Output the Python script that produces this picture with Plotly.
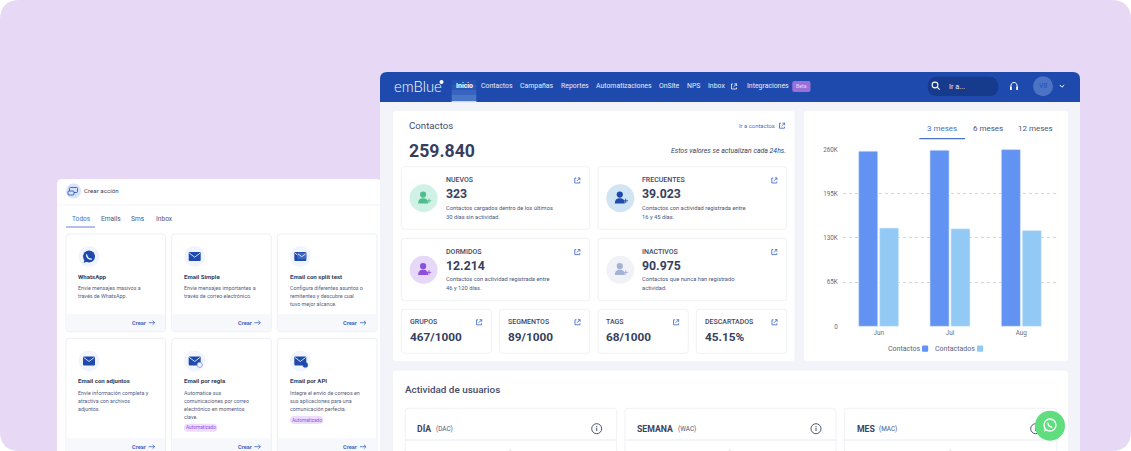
import plotly.graph_objects as go

W = 1131
H = 451

# chart data
months = ["Jun", "Jul", "Aug"]
contactos = [257500, 258800, 259840]
contactados = [144500, 143500, 141000]
y_ticks = [0, 65000, 130000, 195000, 260000]
y_tick_labels = ["0", "65K", "130K", "195K", "260K"]
range_tabs = ["3 meses", "6 meses", "12 meses"]

# page texts
nav_labels = ["Inicio", "Contactos", "Campañas", "Reportes", "Automatizaciones", "OnSite", "NPS", "Inbox", "Integraciones"]
left_tabs = ["Todos", "Emails", "Sms", "Inbox"]
action_titles = ["WhatsApp", "Email Simple", "Email con split test", "Email con adjuntos", "Email por regla", "Email por API"]
action_desc = [
    ["Envíe mensajes masivos a", "través de WhatsApp."],
    ["Envíe mensajes importantes a", "través de correo electrónico."],
    ["Configura diferentes asuntos o", "remitentes y descubre cual", "tuvo mejor alcance."],
    ["Envíe información completa y", "atractiva con archivos", "adjuntos."],
    ["Automatice sus", "comunicaciones por correo", "electrónico en momentos", "clave."],
    ["Integre el envío de correos en", "sus aplicaciones para una", "comunicación perfecta."],
]
big_titles = ["NUEVOS", "FRECUENTES", "DORMIDOS", "INACTIVOS"]
big_values = ["323", "39.023", "12.214", "90.975"]
big_desc = [
    ["Contactos cargados dentro de los últimos", "30 días sin actividad."],
    ["Contactos con actividad registrada entre", "16 y 45 días."],
    ["Contactos con actividad registrada entre", "46 y 120 días."],
    ["Contactos que nunca han registrado", "actividad."],
]
small_titles = ["GRUPOS", "SEGMENTOS", "TAGS", "DESCARTADOS"]
small_values = ["467/1000", "89/1000", "68/1000", "45.15%"]
activity_titles = ["DÍA", "SEMANA", "MES"]
activity_codes = ["(DAC)", "(WAC)", "(MAC)"]

FONT = "Roboto"
DARK = "#3A4362"
BLUE = "#1E4AAE"
LINK = "#4A70CC"
BORDER = "#ECEEF4"

shapes = []
annotations = []


def px(x):
    return x / W


def py(y):
    return 1 - y / H


def path_from(points):
    # points are (cmd, x, y, ...) in screen pixels
    out = []
    for p in points:
        nums = p[1:]
        coords = [f"{px(nums[i]):.5f},{py(nums[i + 1]):.5f}" for i in range(0, len(nums), 2)]
        out.append(p[0] + " ".join(coords))
    return " ".join(out)


def add_path(points, fill="rgba(0,0,0,0)", line=None, width=1):
    shapes.append(dict(type="path", xref="paper", yref="paper", layer="below", path=path_from(points),
                       fillcolor=fill, line=dict(color=line or "rgba(0,0,0,0)", width=width if line else 0)))


def box(x0, y0, x1, y1, fill="#FFFFFF", line=None, r=0, width=1, square_bottom=False):
    rb = 0 if square_bottom else r
    add_path([("M", x0 + r, y0), ("L", x1 - r, y0), ("Q", x1, y0, x1, y0 + r), ("L", x1, y1 - rb),
              ("Q", x1, y1, x1 - rb, y1), ("L", x0 + rb, y1), ("Q", x0, y1, x0, y1 - rb), ("L", x0, y0 + r),
              ("Q", x0, y0, x0 + r, y0), ("Z",)], fill, line, width)


def circle(cx, cy, r, fill="rgba(0,0,0,0)", line=None, width=1):
    shapes.append(dict(type="circle", xref="paper", yref="paper", layer="below",
                       x0=px(cx - r), x1=px(cx + r), y0=py(cy + r), y1=py(cy - r), fillcolor=fill,
                       line=dict(color=line or "rgba(0,0,0,0)", width=width if line else 0)))


def text(x, y, s, size=7, color=DARK, weight=400, anchor="left", style="normal", family=FONT):
    # annotations sit about 1px inside their anchor
    x = x - 1 if anchor == "left" else x + 1 if anchor == "right" else x
    annotations.append(dict(x=px(x), y=py(y), xref="paper", yref="paper", text=s, showarrow=False,
                            xanchor=anchor, yanchor="middle", borderpad=0,
                            font=dict(family=family, size=size, color=color, weight=weight, style=style)))


def ext_icon(cx, cy, color=LINK):
    add_path([("M", cx - 1, cy - 2.5), ("L", cx - 2.5, cy - 2.5), ("L", cx - 2.5, cy + 2.5), ("L", cx + 2.5, cy + 2.5), ("L", cx + 2.5, cy + 1)],
             line=color, width=0.9)
    add_path([("M", cx - 0.5, cy + 0.5), ("L", cx + 2.6, cy - 2.6), ("M", cx + 0.5, cy - 2.6), ("L", cx + 2.6, cy - 2.6), ("L", cx + 2.6, cy - 0.5)],
             line=color, width=0.9)


def person(cx, cy, color, mark=None):
    circle(cx - 0.5, cy - 3.6, 3.1, color)
    add_path([("M", cx - 5.5, cy + 5.2), ("Q", cx - 5.5, cy, cx - 0.5, cy), ("Q", cx + 4.5, cy, cx + 4.5, cy + 5.2), ("Z",)], color)
    if mark:
        add_path([("M", cx + 3.2, cy + 2.6), ("L", cx + 7.6, cy + 2.6), ("M", cx + 5.4, cy + 0.4), ("L", cx + 5.4, cy + 4.8)], line=mark, width=0.9)


def envelope(cx, cy, w=11, h=8, color=BLUE):
    box(cx - w / 2, cy - h / 2, cx + w / 2, cy + h / 2, color, r=1)
    add_path([("M", cx - w / 2 + 0.6, cy - h / 2 + 1), ("L", cx, cy + 0.6), ("L", cx + w / 2 - 0.6, cy - h / 2 + 1)], line="#FFFFFF", width=0.8)


def wa_icon(cx, cy, r, color):
    circle(cx, cy, r, color)
    add_path([("M", cx - r * 0.9, cy + r * 1.05), ("L", cx - r * 0.65, cy + r * 0.25), ("L", cx - r * 0.1, cy + r * 0.75), ("Z",)], color)


# purple backdrop
box(0, 0, W, H, "#E7D8F5", r=20)

# left panel "Crear accion"
box(57, 179, 381, 452, "#FFFFFF", r=5, square_bottom=True)
add_path([("M", 57, 205), ("L", 380, 205)], line="#F2F3F7", width=1)
circle(73.5, 191, 7.5, "#D7E3FB")
box(69.5, 187.5, 77.5, 192.5, "rgba(0,0,0,0)", line=BLUE, r=1, width=0.8)
box(68, 191, 74, 195, "#D7E3FB", line=BLUE, r=1, width=0.8)
text(84, 191, "Crear acción", 6.2, "#3A4362", 400)
for label, x, color in zip(left_tabs, [72, 100.7, 131, 155.7], [LINK, "#4C5678", "#4C5678", "#4C5678"]):
    text(x, 219, label, 6.6, color, 400)
add_path([("M", 66, 227), ("L", 95, 227)], line="#7C98DF", width=1.2)

card_x = [(66, 165.5), (171.7, 271.3), (277.3, 377)]
rows = [(234, 331.7, 314.3), (338.3, 470, 438.3)]
for i, title in enumerate(action_titles):
    x0, x1 = card_x[i % 3]
    top, bottom, foot = rows[i // 3]
    tx = x0 + 12.4
    box(x0, top, x1, bottom, "#FFFFFF", line="#E9EBF1", r=3, width=0.8)
    box(x0 + 0.5, foot, x1 - 0.5, bottom - 0.5, "#F6F8FC", r=2)
    cx = x0 + 23
    cy = top + 22.6
    circle(cx, cy, 10.5, "#F1F4FD")
    if i == 0:
        wa_icon(cx, cy, 6, BLUE)
        add_path([("M", cx - 2.5, cy - 2.2), ("Q", cx - 2, cy + 2.8, cx + 2.8, cy + 2.6)], line="#FFFFFF", width=1.2)
    else:
        envelope(cx, cy, 12, 9)
    if i == 2:
        envelope(cx + 1.5, cy - 0.5, 9, 6.5, "#3C68C6")
    if i in (4, 5):
        circle(cx + 5, cy + 4, 2.6, "#F1F4FD" if i == 4 else BLUE, line="#7C98DF" if i == 4 else None, width=0.8)
    text(tx, top + 42.5, title, 6.1, "#333C5A", 700)
    for j, line in enumerate(action_desc[i]):
        text(tx, top + 54.2 + j * 8, line, 5.35, "#566080")
    text(x0 + 66, foot + 8.4, "Crear", 5.6, "#3F66C4", 700)
    add_path([("M", x0 + 82.7, foot + 8.4), ("L", x0 + 88.5, foot + 8.4), ("M", x0 + 86.6, foot + 6.4), ("L", x0 + 88.7, foot + 8.4), ("L", x0 + 86.6, foot + 10.4)],
             line="#3F66C4", width=0.8)
for x0, yc in [(184, 427.7), (290, 420)]:
    box(x0, yc - 4, x0 + 33.3, yc + 4, "#EBDDFB", r=4)
    text(x0 + 16.6, yc, "Automatizado", 4.8, "#9152E0", 400, anchor="center")

# main panel
box(380, 72, 1080, 452, "#F2F4FA", r=7, square_bottom=True)
box(380, 72, 1080, 102, BLUE, r=7, square_bottom=True)
for k, c in enumerate(["#2350B2", "#2C59B8", "#3864BF", "#4A74C8"]):
    box(451.7, 80 + k * 5, 476.3, 85 + k * 5 + (2 if k == 3 else 0), c)
box(451.7, 101, 476.3, 102.2, "#C7D5F1")
text(394, 86.5, "emBlue", 14.8, "#FFFFFF", 300, family="Lato")
circle(441.5, 82, 2, "#FFFFFF")
nav_x = [455.7, 480.7, 519.7, 560.7, 596, 659, 687, 708.3, 746.7]
for i, (label, x) in enumerate(zip(nav_labels, nav_x)):
    text(x, 86.5, label, 6.9, "#FFFFFF" if i == 0 else "#E6ECF9", 700 if i == 0 else 400)
ext_icon(734, 86.5, "#E6ECF9")
box(792.3, 81, 810.5, 92, "#9B70D6", r=2)
text(801.4, 86.5, "Beta", 5.2, "#E4D5F6", 400, anchor="center")
box(927.7, 76.7, 998.3, 96, "#163A8C", r=9.6)
circle(935, 85, 2.9, line="#FFFFFF", width=1.1)
add_path([("M", 937.2, 87.2), ("L", 939.6, 89.6)], line="#FFFFFF", width=1.1)
text(949, 86.5, "Ir a...", 7.4, "#E6ECF9", 400)
add_path([("M", 1010.8, 87), ("Q", 1010.8, 82.5, 1014, 82.5), ("Q", 1017.2, 82.5, 1017.2, 87)], line="#FFFFFF", width=1)
box(1010, 86.5, 1011.8, 90, "#FFFFFF", r=0.6)
box(1016.2, 86.5, 1018, 90, "#FFFFFF", r=0.6)
circle(1043, 86.3, 10, "#4C73C4")
text(1043, 86.5, "VB", 6.5, "#2F5DC6", 700, anchor="center")
add_path([("M", 1059.8, 85), ("L", 1062, 87.2), ("L", 1064.2, 85)], line="#FFFFFF", width=1)

# contactos panel
box(393, 111, 794.5, 361, "#FFFFFF", r=3)
text(409, 125.5, "Contactos", 9.7, "#434C6A", 400)
text(409, 150.5, "259.840", 17.7, "#363F60", 700)
text(739, 125.7, "Ir a contactos", 5.9, LINK, 400)
ext_icon(782, 125.7)
text(786, 150.7, "Estos valores se actualizan cada 24hs.", 6.9, "#3A4362", 400, anchor="right", style="italic")

big_cards = [(401.3, 166.7, 589.7, 229.3), (598, 166.7, 786.7, 229.3), (401.3, 238.3, 589.7, 300.7), (598, 238.3, 786.7, 300.7)]
big_icons = [("#CFF1E6", "#4DBF8E"), ("#D0E4F3", BLUE), ("#E6D8F7", "#8D4FE0"), ("#F0F2F8", "#A4B2D4")]
for i, (x0, y0, x1, y1) in enumerate(big_cards):
    box(x0, y0, x1, y1, "#FFFFFF", line=BORDER, r=3, width=0.8)
    fill, ink = big_icons[i]
    circle(x0 + 22.3, y0 + 31.5, 14, fill)
    person(x0 + 22.3, y0 + 31.5, ink, mark=ink)
    tx = x0 + 44.2
    text(tx, y0 + 13.8, big_titles[i], 7, "#3F4866", 500)
    text(tx, y0 + 27.6, big_values[i], 12.3, "#363F60", 700)
    for j, line in enumerate(big_desc[i]):
        text(tx, y0 + 41 + j * 9, line, 5.75, "#4C5678")
    ext_icon(x1 - 12.4, y0 + 13.8)

small_cards = [(401.3, 491.3), (499.3, 589.7), (598, 688.3), (696.3, 786.7)]
for i, (x0, x1) in enumerate(small_cards):
    box(x0, 309.3, x1, 353.3, "#FFFFFF", line=BORDER, r=3, width=0.8)
    text(x0 + 8.2, 322.3, small_titles[i], 7, "#3F4866", 500)
    text(x0 + 8.2, 336.5, small_values[i], 11.8, "#363F60", 700)
    ext_icon(x1 - 12.2, 322.3)

# actividad panel
box(393, 370.7, 1068, 460, "#FFFFFF", r=3)
text(405, 389.3, "Actividad de usuarios", 9.9, "#434C6A", 500)
act_cards = [(405.3, 616.7, 417.3, 435.7, 596.7, 510), (625, 836, 637, 677.7, 816, 730), (844.3, 1056.7, 856.7, 879, 1035.7, 950)]
for i, (x0, x1, tx, cx, ix, sep) in enumerate(act_cards):
    box(x0, 408.3, x1, 470, "#FFFFFF", line=BORDER, r=3, width=0.8)
    add_path([("M", x0, 440), ("L", x1, 440)], line="#E8EAF0", width=1)
    add_path([("M", sep, 449), ("L", sep, 452)], line="#D8DBE4", width=0.8)
    text(tx, 428.7, activity_titles[i], 8.7, "#3A4362", 700)
    text(cx, 428.7, activity_codes[i], 6.4, "#4C5678")
    circle(ix, 428.7, 5, line="#3A4362", width=0.9)
    add_path([("M", ix, 427.6), ("L", ix, 431), ("M", ix, 426), ("L", ix, 426.9)], line="#3A4362", width=0.9)

# chart panel
box(804, 111, 1068, 360.7, "#FFFFFF", r=3)
for label, x, color in zip(range_tabs, [942, 987.5, 1035], ["#4A70CC", "#4C5678", "#4C5678"]):
    text(x, 128, label, 8, color, 400, anchor="center")
add_path([("M", 919.3, 138.7), ("L", 965, 138.7)], line="#4A74D0", width=1.2)

text(920, 348.7, "Contactos", 7, "#5B6480", anchor="right")
box(922, 345.6, 928.2, 351.8, "#6393F2", r=1)
text(975, 348.7, "Contactados", 7, "#5B6480", anchor="right")
box(977, 345.6, 983.2, 351.8, "#93CAF5", r=1)

# floating whatsapp button
circle(1050, 425.7, 15, "#5FDD7F")
circle(1050, 425, 6, line="#FFFFFF", width=1.3)
add_path([("M", 1045, 428), ("L", 1044, 431.6), ("L", 1047.8, 430.6)], "#FFFFFF")
add_path([("M", 1047.8, 422.8), ("Q", 1048.2, 427, 1052.4, 427.4)], line="#FFFFFF", width=1.4)

fig = go.Figure()
fig.add_bar(x=months, y=contactos, name="Contactos", marker=dict(color="#6393F2", line=dict(color="#D5E3FC", width=0.6)))
fig.add_bar(x=months, y=contactados, name="Contactados", marker=dict(color="#93CAF5", line=dict(color="#DCEEFC", width=0.6)))

fig.update_layout(
    width=W,
    height=H,
    margin=dict(l=0, r=0, t=0, b=0),
    paper_bgcolor="#FFFFFF",
    plot_bgcolor="rgba(0,0,0,0)",
    barmode="group",
    bargap=0.413,
    bargroupgap=0.09,
    barcornerradius=1,
    showlegend=False,
    shapes=shapes,
    annotations=annotations,
    font=dict(family=FONT),
    xaxis=dict(domain=[px(843), px(1057)], showgrid=False, showline=False, zeroline=False, ticks="", automargin=False,
               tickfont=dict(size=6.3, color="#666C7A")),
    # range runs a hair past the ticks so the end gridlines are not clipped
    yaxis=dict(domain=[py(327.3), py(148.5)], range=[-1470, 261470], tickvals=y_ticks, ticktext=y_tick_labels,
               showline=False, zeroline=False, showgrid=True, gridcolor="#D0D3DC", griddash="dot", gridwidth=0.8, automargin=False,
               ticks="outside", ticklen=3, tickcolor="rgba(0,0,0,0)", tickfont=dict(size=6.3, color="#666C7A")),
)

fig.write_html("out.html", config=dict(displayModeBar=False),
               post_script="document.body.style.margin='0';document.body.style.overflow='hidden';")
